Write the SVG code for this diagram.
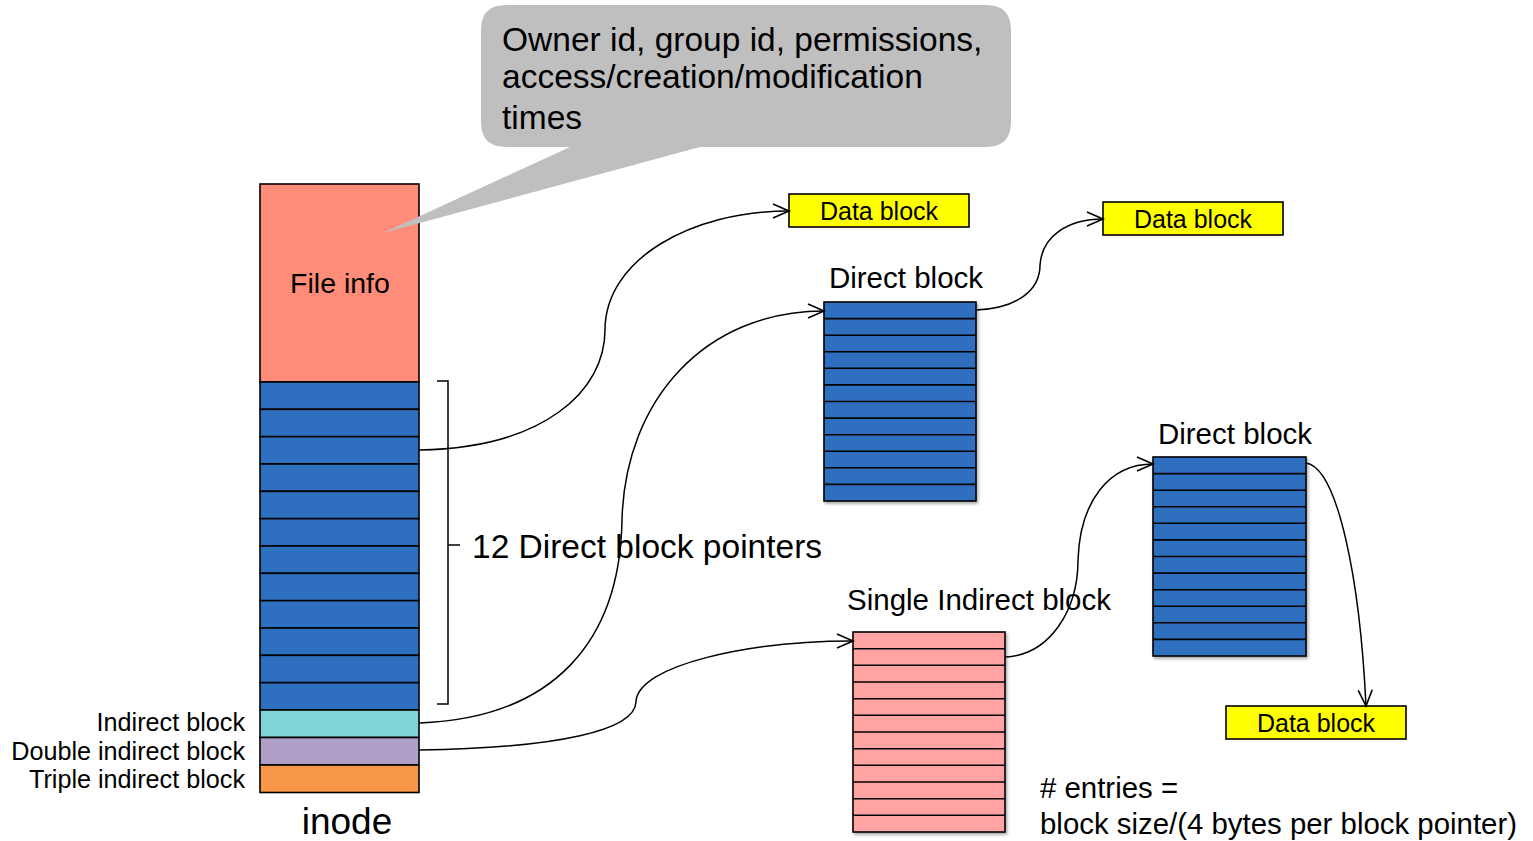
<svg xmlns="http://www.w3.org/2000/svg" width="1533" height="841" viewBox="0 0 1533 841">
<style>
text{font-family:"Liberation Sans",Arial,sans-serif;fill:#000}
.blk{stroke:#000;stroke-width:1.6}
.blue{fill:#2f6fbf}
.pink{fill:#ffa3a3}
.data{fill:#ffff00;stroke:#000;stroke-width:1.6}
.ln{stroke:#000;stroke-width:1.6}
.con{fill:none;stroke:#000;stroke-width:1.5;marker-end:url(#arr)}
</style>
<defs>
<marker id="arr" markerUnits="userSpaceOnUse" markerWidth="20" markerHeight="20" refX="17" refY="8" orient="auto" viewBox="0 0 20 16">
<path d="M1,1 L17,8 L1,15" fill="none" stroke="#000" stroke-width="1.6"/>
</marker>
<filter id="sh" x="-10%" y="-10%" width="130%" height="130%">
<feDropShadow dx="1.5" dy="2" stdDeviation="1.5" flood-color="#000" flood-opacity="0.35"/>
</filter>
</defs>

<g id="inode">
<rect x="260" y="184" width="159" height="198" fill="#ff8c78" class="blk"/>
<text x="340" y="293" font-size="28.5" text-anchor="middle">File info</text>
<rect class="blk blue" x="260" y="382" width="159" height="27.33"/>
<rect class="blk blue" x="260" y="409.33" width="159" height="27.33"/>
<rect class="blk blue" x="260" y="436.67" width="159" height="27.33"/>
<rect class="blk blue" x="260" y="464" width="159" height="27.33"/>
<rect class="blk blue" x="260" y="491.33" width="159" height="27.33"/>
<rect class="blk blue" x="260" y="518.67" width="159" height="27.33"/>
<rect class="blk blue" x="260" y="546" width="159" height="27.33"/>
<rect class="blk blue" x="260" y="573.33" width="159" height="27.33"/>
<rect class="blk blue" x="260" y="600.67" width="159" height="27.33"/>
<rect class="blk blue" x="260" y="628" width="159" height="27.33"/>
<rect class="blk blue" x="260" y="655.33" width="159" height="27.33"/>
<rect class="blk blue" x="260" y="682.67" width="159" height="27.33"/>
<rect class="blk" x="260" y="710" width="159" height="27.5" fill="#7fd5d5"/>
<rect class="blk" x="260" y="737.5" width="159" height="27.5" fill="#b0a0c8"/>
<rect class="blk" x="260" y="765" width="159" height="27.5" fill="#f79646"/>
<text x="245" y="731" font-size="25.2" text-anchor="end">Indirect block</text>
<text x="245" y="760" font-size="25.2" text-anchor="end">Double indirect block</text>
<text x="245" y="788" font-size="25.2" text-anchor="end">Triple indirect block</text>
<text x="347" y="834" font-size="37" text-anchor="middle">inode</text>
</g>

<g id="callout">
<path d="M506,5 H986 Q1011,5 1011,30 V122 Q1011,147 986,147 H700 L383,233 L570,147 H506 Q481,147 481,122 V30 Q481,5 506,5 Z" fill="#bfbfbf"/>
<text x="502" y="51" font-size="33.5">Owner id, group id, permissions,</text>
<text x="502" y="88" font-size="33.5">access/creation/modification</text>
<text x="502" y="129" font-size="33.5">times</text>
</g>

<g id="bracket">
<path d="M437,381 H448 V704 H437 M448,545 H460" fill="none" stroke="#000" stroke-width="1.5"/>
<text x="472" y="558" font-size="33.5">12 Direct block pointers</text>
</g>

<g id="data1">
<rect class="data" x="789" y="194" width="180" height="33"/>
<text x="879" y="220" font-size="25" text-anchor="middle">Data block</text>
</g>
<g id="data2">
<rect class="data" x="1103" y="202" width="180" height="33"/>
<text x="1193" y="228" font-size="25" text-anchor="middle">Data block</text>
</g>
<g id="data3">
<rect class="data" x="1226" y="706" width="180" height="33"/>
<text x="1316" y="732" font-size="25" text-anchor="middle">Data block</text>
</g>

<g id="direct1">
<text x="906" y="288" font-size="29.5" text-anchor="middle">Direct block</text>
<rect class="blk blue" x="824" y="302" width="152" height="199" filter="url(#sh)"/>
<path class="ln" d="M824,318.6H976M824,335.2H976M824,351.8H976M824,368.3H976M824,384.9H976M824,401.5H976M824,418.1H976M824,434.7H976M824,451.3H976M824,467.8H976M824,484.4H976"/>
</g>

<g id="direct2">
<text x="1235" y="444" font-size="29.5" text-anchor="middle">Direct block</text>
<rect class="blk blue" x="1153" y="457" width="153" height="199" filter="url(#sh)"/>
<path class="ln" d="M1153,473.6H1306M1153,490.2H1306M1153,506.8H1306M1153,523.3H1306M1153,539.9H1306M1153,556.5H1306M1153,573.1H1306M1153,589.7H1306M1153,606.3H1306M1153,622.8H1306M1153,639.4H1306"/>
</g>

<g id="single">
<text x="847" y="610" font-size="29.5">Single Indirect block</text>
<rect class="blk pink" x="853" y="632" width="152" height="200" filter="url(#sh)"/>
<path class="ln" d="M853,648.7H1005M853,665.3H1005M853,682H1005M853,698.7H1005M853,715.3H1005M853,732H1005M853,748.7H1005M853,765.3H1005M853,782H1005M853,798.7H1005M853,815.3H1005"/>
</g>

<g id="note">
<text x="1040" y="798" font-size="29.4"># entries =</text>
<text x="1040" y="834" font-size="29.4">block size/(4 bytes per block pointer)</text>
</g>

<g id="connectors">
<path class="con" d="M419,450 C545,448 605,390 605,330 C605,260 690,211 789,211"/>
<path class="con" d="M419,723 C555,718 620,640 622,520 C625,400 705,311 824,311"/>
<path class="con" d="M419,750 C560,748 635,730 636,702 C637,665 750,641 853,641"/>
<path class="con" d="M976,310 C1018,308 1040,290 1040,265 C1042,236 1068,219 1103,219"/>
<path class="con" d="M1005,657 C1050,655 1078,610 1078,560 C1080,500 1110,464 1153,464"/>
<path class="con" d="M1306,463 C1338,468 1360,580 1366,706"/>
</g>
</svg>
